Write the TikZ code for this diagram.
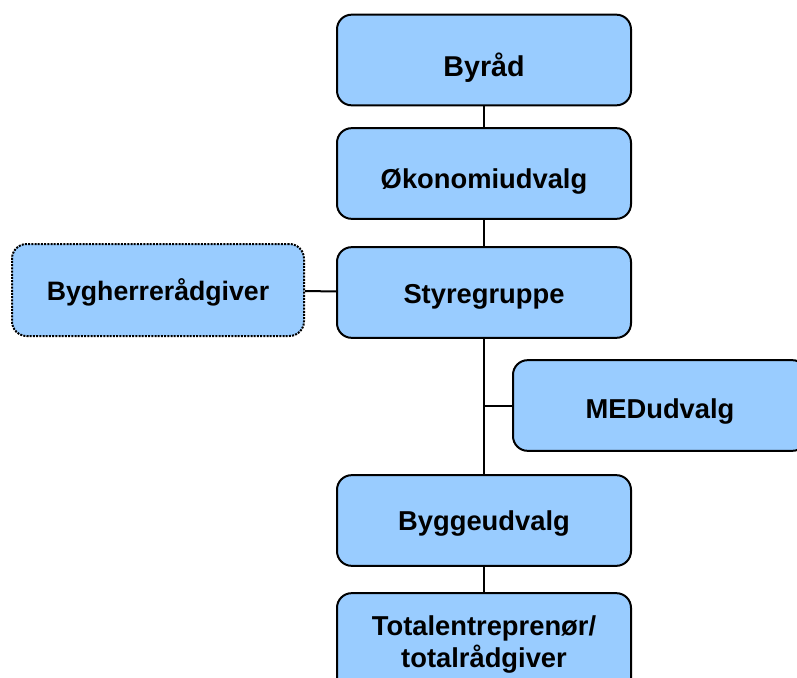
\documentclass[tikz,border=0pt]{standalone}
\usepackage{fontspec}
\setmainfont{Liberation Sans}
\definecolor{boxblue}{HTML}{99CCFF}

\begin{document}
\begin{tikzpicture}[x=0.75pt,y=-0.75pt]
                \useasboundingbox (0,0) rectangle (797,678);
                \clip (0,0) rectangle (797,678);
                \begin{scope}[every node/.style={draw, line width=1.5pt, fill=boxblue, rounded corners=11pt, minimum width=220.5pt, minimum height=68pt, align=center, font=\fontsize{20.5}{23.3}\selectfont\bfseries}, txt/.style={text height=#1, text depth=0pt}]
                        \node[txt=24.4pt, font=\fontsize{21.5}{24}\selectfont\bfseries] (Byr) at (484,60) {Byråd};
                        \node[txt=22.9pt] (Oko) at (484,173.5) {Økonomiudvalg};
                        \node[txt=16.9pt] (Sty) at (484,292.5) {Styregruppe};
                        \node[txt=16.2pt, dash pattern=on 1.5pt off 0.9pt, minimum width=219pt, minimum height=69pt, font=\fontsize{20}{23}\selectfont\bfseries] (Byh) at (158,290) {Bygherrerådgiver};
                        \node[txt=19.9pt] (Med) at (660,405.5) {MEDudvalg};
                        \node[txt=15.5pt] (Byg) at (484,520.5) {Byggeudvalg};
                        \node[minimum height=77pt] (Tot) at (484,644.5) {Totalentreprenør/\\totalrådgiver};
                \end{scope}
                \begin{scope}[every path/.style={line width=1.5pt}]
                        \path (Byr) edge (Oko);
                        \path (Oko) edge (Sty);
                        \path (Sty) edge (Byg);
                        \path (Byg) edge (Tot);
                        \path (Byh) edge (Sty);
                        \draw (Med.west) -- (Med.west -| Sty.south);
                \end{scope}
        \end{tikzpicture}
\end{document}
